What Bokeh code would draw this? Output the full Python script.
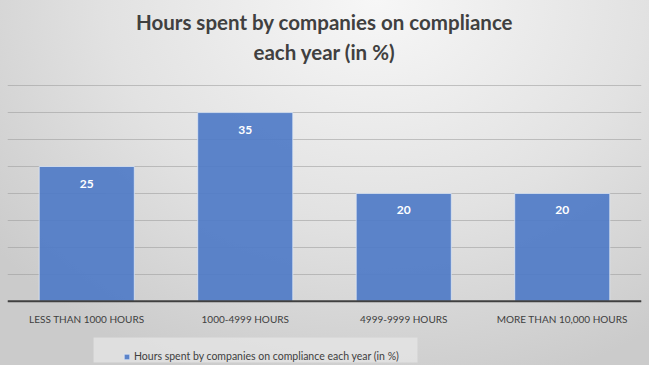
from bokeh.plotting import figure
from bokeh.models import (ColumnDataSource, FixedTicker, Legend, LegendItem, LabelSet, Range1d,
                          FactorRange, Title, BoxAnnotation, Span)
from bokeh.core.properties import value
from bokeh.embed import file_html
from bokeh.resources import INLINE

categories = ["LESS THAN 1000 HOURS", "1000-4999 HOURS", "4999-9999 HOURS", "MORE THAN 10,000 HOURS"]
values = [25, 35, 20, 20]
labels = ["25", "35", "20", "20"]
series_name = "Hours spent by companies on compliance each year (in %)"
title_line1 = "Hours spent by companies on compliance"
title_line2 = "each year (in %)"
grid_ticks = [0, 5, 10, 15, 20, 25, 30, 35, 40]

src = ColumnDataSource(dict(cat=categories, val=values, lab=labels))

# lower part of the frame (below 0) holds the category labels and legend
p = figure(width=649, height=365, x_range=FactorRange(*categories, range_padding=0),
           y_range=Range1d(-11.9, 44.47), output_backend="svg", toolbar_location=None,
           min_border_left=7, min_border_right=8, min_border_top=0, min_border_bottom=0)
p.title = None
p.styles = {"background": "radial-gradient(ellipse 75% 110% at 58% 0%, #f7f7f7 0%, #e2e2e2 55%, #cbcbcb 100%)"}
p.border_fill_color = None
p.background_fill_color = None
p.outline_line_color = None

for txt, sb in [(title_line2, -5), (title_line1, 14)]:
    t = Title(text=txt, align="center", text_font="Lato", text_font_style="bold",
              text_font_size="20.5px", text_color="#404040", standoff=sb, offset=0)
    p.add_layout(t, "above")

r = p.vbar(x="cat", top="val", bottom=0, width=0.6, source=src, fill_color="#4f7bc7", fill_alpha=0.92,
           line_color="#dfe7f4", line_width=1, line_alpha=0.8)

lbl = LabelSet(x="cat", y="val", text="lab", source=src, y_offset=-17, text_align="center",
               text_baseline="middle", text_color="white", text_font=value("Lato"),
               text_font_style="bold", text_font_size="12px")
p.add_layout(lbl)

# category labels
cat_lbl = LabelSet(x="cat", y=0, text="cat", source=src, y_offset=-18, text_align="center",
                   text_baseline="middle", text_color="#404040", text_font=value("Lato"),
                   text_font_size="10px")
p.add_layout(cat_lbl)

p.xaxis.visible = False
p.yaxis.visible = False
p.ygrid.ticker = FixedTicker(ticks=grid_ticks)
p.ygrid.grid_line_color = "#9a9a9a"
p.ygrid.grid_line_alpha = 0.55
p.xgrid.visible = False

baseline = Span(location=0, dimension="width", line_color="#404040", line_width=2)
p.add_layout(baseline)

box = BoxAnnotation(left=86, right=410, bottom=3, top=28, left_units="screen", right_units="screen",
                    bottom_units="screen", top_units="screen", fill_color="#e6e6e6", fill_alpha=0.75,
                    line_color=None, level="annotation")
p.add_layout(box)

legend = Legend(items=[LegendItem(label=series_name, renderers=[r])], location=(116, 3),
                orientation="horizontal", background_fill_alpha=0,
                border_line_color=None, label_text_font="Lato", label_text_font_size="10.5px",
                label_text_color="#404040", glyph_width=7, glyph_height=7, padding=6,
                margin=0, label_standoff=4)
p.add_layout(legend)

open("out.html", "w").write(file_html(p, INLINE))
